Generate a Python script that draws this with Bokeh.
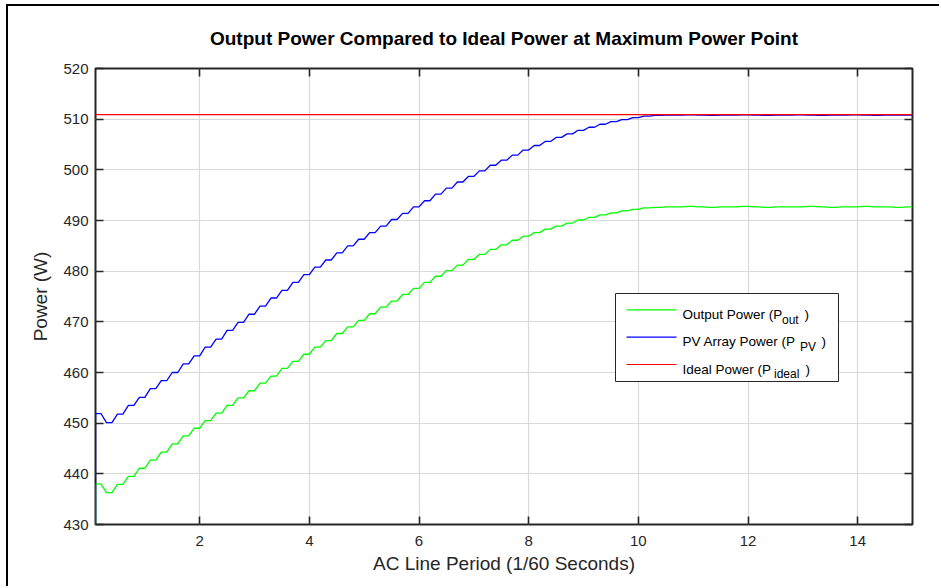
import numpy as np
from bokeh.plotting import figure
from bokeh.models import Range1d, LinearAxis, FixedTicker, BoxAnnotation, Label, CustomLabelingPolicy
from bokeh.embed import file_html
from bokeh.resources import INLINE

# ---------------- data ----------------
title_text = "Output Power Compared to Ideal Power at Maximum Power Point"
x_label = "AC Line Period (1/60 Seconds)"
y_label = "Power (W)"

t_start = 0.1          # first sample (AC line periods)
t_end = 15.0
ripple_period = 0.2    # one flat + one ramp of the staircase ripple
initial_power = 0.0    # value before the tracker starts (off-scale)

x_ticks = [2, 4, 6, 8, 10, 12, 14]
y_ticks = [430, 440, 450, 460, 470, 480, 490, 500, 510, 520]

# level of each flat of the staircase (one per ripple period)
output_power = [
    438.0, 436.3, 437.9, 439.5, 441.1, 442.7, 444.3, 445.9, 447.5, 449.0,
    450.5, 452.0, 453.5, 455.0, 456.4, 457.9, 459.3, 460.8, 462.2, 463.6,
    465.0, 466.3, 467.7, 469.0, 470.3, 471.6, 472.9, 474.1, 475.4, 476.6,
    477.8, 479.0, 480.1, 481.2, 482.3, 483.3, 484.3, 485.2, 486.1, 486.9,
    487.6, 488.3, 488.9, 489.5, 490.1, 490.6, 491.1, 491.5, 491.9, 492.2,
    492.5, 492.6, 492.7, 492.7, 492.8, 492.7, 492.6, 492.7, 492.7, 492.8,
    492.7, 492.6, 492.7, 492.7, 492.7, 492.8, 492.7, 492.6, 492.7, 492.7,
    492.8, 492.7, 492.7, 492.6, 492.7,
]
pv_power = [
    451.9, 450.1, 451.8, 453.5, 455.1, 456.8, 458.4, 460.0, 461.7, 463.3,
    465.0, 466.6, 468.3, 469.9, 471.5, 473.1, 474.7, 476.2, 477.8, 479.3,
    480.8, 482.2, 483.6, 485.0, 486.3, 487.6, 488.9, 490.2, 491.4, 492.7,
    493.9, 495.2, 496.4, 497.6, 498.7, 499.8, 500.9, 501.9, 502.9, 503.9,
    504.8, 505.6, 506.4, 507.1, 507.8, 508.4, 509.0, 509.5, 509.9, 510.3,
    510.6, 510.75, 510.8, 510.8, 510.85, 510.8, 510.75, 510.8, 510.8, 510.85,
    510.8, 510.75, 510.8, 510.8, 510.85, 510.8, 510.75, 510.8, 510.8, 510.85,
    510.8, 510.75, 510.8, 510.8, 510.8,
]
ideal_power = 510.9

legend_labels = [("Output Power (P", "out", ")"),
                 ("PV Array Power (P", "PV", ")"),
                 ("Ideal Power (P", "ideal", ")")]

colors = ["#00ff00", "#0000ff", "#ff0000"]
AX = "#262626"
FONT = "Liberation Sans"


def staircase(levels):
    xs = [t_start]
    ys = [initial_power]
    for k, lv in enumerate(levels):
        a = t_start + ripple_period * k
        xs += [a, a + ripple_period / 2]
        ys += [lv, lv]
    return np.array(xs), np.array(ys)


p = figure(width=933, height=582,
           x_range=Range1d(t_start, t_end), y_range=Range1d(y_ticks[0], y_ticks[-1]),
           output_backend="svg", toolbar_location=None,
           min_border_left=87, min_border_right=29, min_border_top=62, min_border_bottom=64,
           background_fill_color="white", border_fill_color="white",
           x_axis_label=x_label, y_axis_label=y_label, title=title_text)
p.styles = {"border-left": "2px solid #000000", "border-top": "2px solid #000000",
            "margin-left": "6px", "margin-top": "4px"}

p.outline_line_color = AX
p.outline_line_width = 2
p.outline_line_alpha = 1

p.title.text_font = FONT
p.title.text_font_size = "19px"
p.title.text_font_style = "bold"
p.title.text_color = "#000000"
p.title.align = "center"
p.title.standoff = 32

xt = FixedTicker(ticks=x_ticks)
yt = FixedTicker(ticks=y_ticks)


def style_axis(ax, ticker):
    ax.ticker = ticker
    ax.axis_line_color = None
    ax.major_tick_in = 8
    ax.major_tick_out = 0
    ax.minor_tick_in = 0
    ax.minor_tick_out = 0
    ax.major_tick_line_color = AX
    ax.major_tick_line_width = 1.6
    ax.major_label_text_font = FONT
    ax.major_label_text_font_size = "15px"
    ax.major_label_text_color = AX
    ax.axis_label_text_font = FONT
    ax.axis_label_text_font_size = "19px"
    ax.axis_label_text_font_style = "normal"
    ax.axis_label_text_color = AX


style_axis(p.xaxis[0], xt)
style_axis(p.yaxis[0], yt)
p.xaxis[0].major_label_standoff = 11
p.xaxis[0].axis_label_standoff = 4
p.yaxis[0].major_label_standoff = 7
p.yaxis[0].axis_label_standoff = 9

hide_labels = CustomLabelingPolicy(code="""
    for (const i of indices) indices.unset(i)
    return indices
""")
for loc, tk in (("above", xt), ("right", yt)):
    ax = LinearAxis()
    style_axis(ax, tk)
    ax.major_label_text_font_size = "1px"
    ax.major_label_standoff = 0
    ax.major_label_policy = hide_labels
    p.add_layout(ax, loc)

p.xgrid.ticker = xt
p.ygrid.ticker = yt
p.xgrid.grid_line_color = "#d9d9d9"
p.ygrid.grid_line_color = "#d9d9d9"
p.xgrid.grid_line_width = 1.2
p.ygrid.grid_line_width = 1.2

gx, gy = staircase(output_power)
bx, by = staircase(pv_power)
p.line(gx, gy, line_color=colors[0], line_width=1.3)
p.line(bx, by, line_color=colors[1], line_width=1.3)
p.line([t_start, t_end], [ideal_power, ideal_power], line_color=colors[2], line_width=1.3)

# ---------------- legend (frame-relative screen units) ----------------
su = dict(left_units="screen", right_units="screen", top_units="screen", bottom_units="screen")
p.add_layout(BoxAnnotation(left=520, right=743, bottom=143, top=231, fill_color="white", fill_alpha=1,
                           line_color=AX, line_alpha=1, line_width=1, level="annotation", **su))
rows_y = [214.7, 187.3, 160.0]
sub_x = [686.5, 704.5, 678.5]
close_x = [709.0, 726.0, 710.0]
for i, ry in enumerate(rows_y):
    p.add_layout(BoxAnnotation(left=531, right=581, bottom=ry - 0.6, top=ry + 0.6,
                               fill_color=colors[i], fill_alpha=1, line_color=None,
                               level="annotation", **su))
    main, sub, close = legend_labels[i]
    p.add_layout(Label(x=587, y=ry - 4.6, x_units="screen", y_units="screen", text=main,
                       text_font=FONT, text_font_size="13.5px", text_color="#000000",
                       text_baseline="alphabetic", text_align="left"))
    p.add_layout(Label(x=sub_x[i], y=ry - 9.8, x_units="screen", y_units="screen", text=sub,
                       text_font=FONT, text_font_size="12px", text_color="#000000",
                       text_baseline="alphabetic", text_align="left"))
    p.add_layout(Label(x=close_x[i], y=ry - 4.6, x_units="screen", y_units="screen", text=close,
                       text_font=FONT, text_font_size="13.5px", text_color="#000000",
                       text_baseline="alphabetic", text_align="left"))

open("out.html", "w").write(file_html(p, INLINE))
